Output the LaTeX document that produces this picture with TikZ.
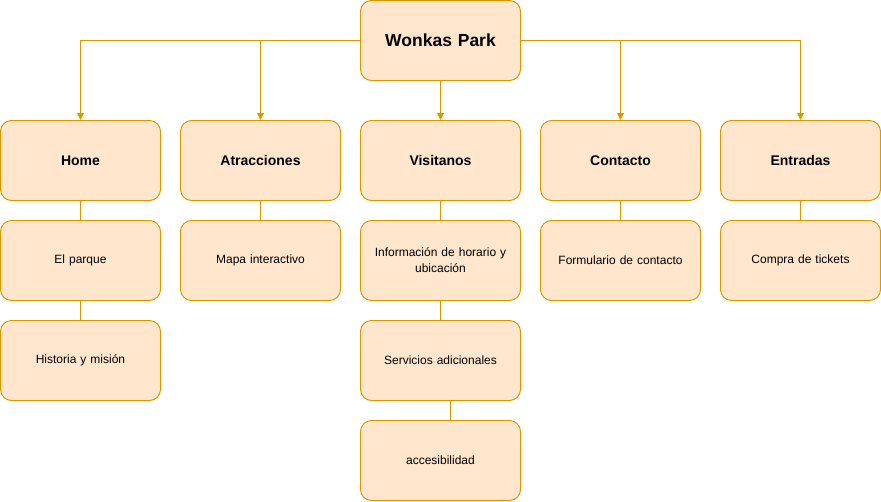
\documentclass[tikz,border=0pt]{standalone}
\usepackage{fontspec}
\setmainfont{Liberation Sans}
\usetikzlibrary{positioning,arrows.meta}
\definecolor{boxfill}{HTML}{FFE6CC}
\definecolor{boxline}{HTML}{D79B00}
\tikzset{
      page box/.style={draw=boxline, fill=boxfill, line width=1pt, rounded corners=11pt,
                       minimum width=160pt, minimum height=80pt, text width=146pt, align=center,
                       font=\fontsize{12}{16}\selectfont},
      root box/.style={page box, font=\fontsize{17.5}{21}\selectfont\bfseries},
      sect box/.style={page box, font=\fontsize{14}{17}\selectfont\bfseries},
      treeedge/.style={boxline, line width=1pt, -{Triangle[width=7pt,length=7pt]}},
      subedge/.style={boxline, line width=1pt},
    }
\begin{document}
\begin{tikzpicture}[x=1pt, y=-1pt, node distance=180pt, on grid]
            \useasboundingbox (0,0) rectangle (881,501);
            \node [root box] (park) at (440.5,40.5)     {Wonkas Park};

            \node [sect box] (vis)  [below=120pt of park] {Visitanos};
            \node [sect box] (atr)  [left=of vis]         {Atracciones};
            \node [sect box] (home) [left=of atr]         {Home};
            \node [sect box] (cont) [right=of vis]        {Contacto};
            \node [sect box] (ent)  [right=of cont]       {Entradas};

            \node [page box] (parque)   [below=100pt of home]   {El parque};
            \node [page box] (historia) [below=100pt of parque] {Historia y misión};
            \node [page box] (mapa)     [below=100pt of atr]    {Mapa interactivo};
            \node [page box] (info)     [below=100pt of vis]    {Información de horario y\\ubicación};
            \node [page box] (serv)     [below=100pt of info]   {Servicios adicionales};
            \node [page box] (acc)      [below=100pt of serv]   {accesibilidad};
            \node [page box] (form)     [below=100pt of cont]   {Formulario de contacto};
            \node [page box] (tickets)  [below=100pt of ent]    {Compra de tickets};

            \draw [treeedge] (park.west) -| (home);
            \draw [treeedge] (park.west) -| (atr);
            \draw [treeedge] (park) -- (vis);
            \draw [treeedge] (park.east) -| (cont);
            \draw [treeedge] (park.east) -| (ent);

            \draw [subedge] (home) -- (parque);
            \draw [subedge] (parque) -- (historia);
            \draw [subedge] (atr) -- (mapa);
            \draw [subedge] (vis) -- (info);
            \draw [subedge] (info) -- (serv);
            \draw [subedge] ([xshift=10pt]serv.south) -- ([xshift=10pt]acc.north);
            \draw [subedge] (cont) -- (form);
            \draw [subedge] (ent) -- (tickets);
      \end{tikzpicture}
\end{document}
